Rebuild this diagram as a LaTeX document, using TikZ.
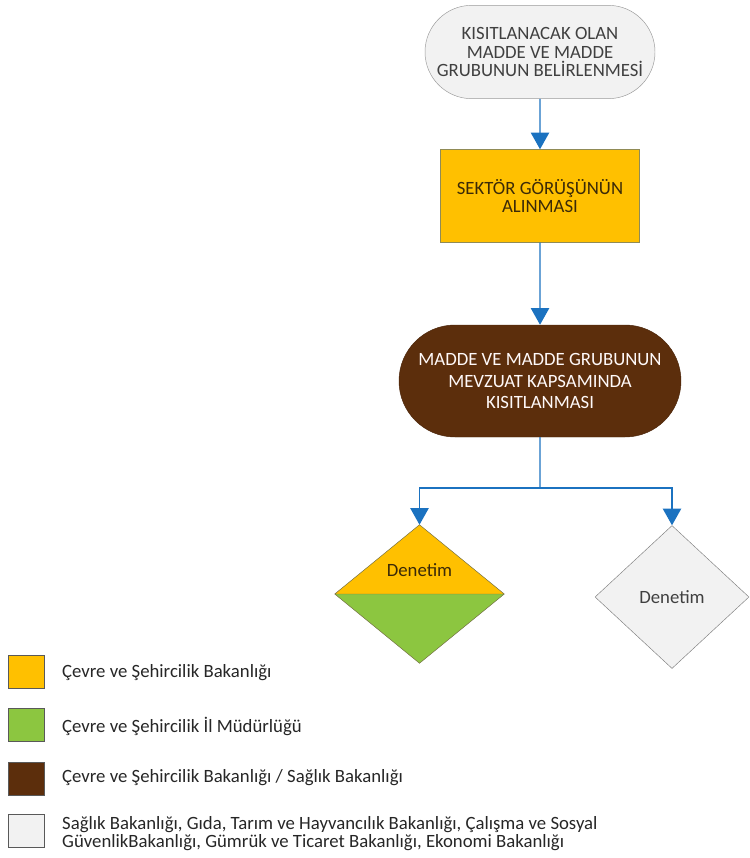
\documentclass[tikz,border=0pt]{standalone}
\usepackage{fontspec}
\setmainfont{Carlito}
\usetikzlibrary{shapes.geometric,shapes.misc,arrows.meta}
\definecolor{termgray}{HTML}{F2F2F2}
\definecolor{gold}{HTML}{FFC000}
\definecolor{leaf}{HTML}{8CC640}
\definecolor{soil}{HTML}{5C2E0C}
\definecolor{flow}{HTML}{1B72C0}
\definecolor{ink}{HTML}{404040}
\definecolor{darkink}{HTML}{3B2A08}
\begin{document}
\begin{tikzpicture}[x=0.3mm, y=-0.3mm,
        txt/.style={font=\fontsize{16}{15.5}\selectfont, text=ink},
        term/.style={rounded rectangle, draw=gray!80, fill=termgray, align=center, inner sep=0pt, txt},
        proc/.style={draw=gray!60!olive, fill=gold, align=center, txt, text=darkink},
        dec/.style={diamond, draw=gray, inner sep=0pt},
        legbox/.style={draw=gray!70!black, minimum width=10.8mm, minimum height=10mm, inner sep=0pt},
        legtext/.style={anchor=west, align=left, inner sep=0pt, txt, text=black!85},
        arrow/.style={-{Triangle[width=5.5mm, length=5mm]}, draw=flow, line width=1.2pt}
      ]
      \useasboundingbox (0,0) rectangle (749,858);

      \node[term, minimum width=69mm, minimum height=28mm] (start) at (540,52)
        {KISITLANACAK OLAN\\MADDE VE MADDE\\GRUBUNUN BELİRLENMESİ};
      \node[proc, minimum width=59.7mm, minimum height=27.9mm] (sector) at (540,196)
        {SEKTÖR GÖRÜŞÜNÜN\\ALINMASI};
      \node[term, draw=soil!80!black, fill=soil, text=white!90!pink, font=\fontsize{16}{18.5}\selectfont,
        minimum width=84.6mm, minimum height=33.6mm] (restrict) at (540,381)
        {MADDE VE MADDE GRUBUNUN\\MEVZUAT KAPSAMINDA\\KISITLANMASI};

      % split inspection diamond
      \node[dec, minimum width=50.7mm, minimum height=41.4mm] (check1) at (419.5,594) {};
      \fill[gold] (check1.west) -- (check1.north) -- (check1.east) -- cycle;
      \fill[leaf] (check1.west) -- (check1.south) -- (check1.east) -- cycle;
      \draw[gray!50!olive!80!black] (check1.west) -- (check1.north) -- (check1.east) -- (check1.south) -- cycle
        (check1.west) -- (check1.east);
      \node[txt, text=darkink] (check1text) at (419.5,570) {Denetim};

      \node[dec, fill=termgray, minimum width=46.2mm, minimum height=42.9mm, txt] (check2) at (672,597) {Denetim};

      \coordinate (fork) at (540,488);
      \draw[arrow] (start) -- (sector);
      \draw[arrow] (sector) -- (restrict);
      \draw[flow, line width=1.2pt] (restrict) -- (fork);
      \draw[arrow] (fork) -| (check1.north);
      \draw[arrow] (fork) -| (check2.north);

      % legend
      \node[legbox, fill=gold] (leg1) at (26,671.5) {};
      \node[legbox, fill=leaf] (leg2) at (26,724.5) {};
      \node[legbox, fill=soil] (leg3) at (26,778.5) {};
      \node[legbox, fill=termgray] (leg4) at (26,831) {};
      \node[legtext] (leg1text) at (62,673) {Çevre ve Şehircilik Bakanlığı};
      \node[legtext] (leg2text) at (62,726) {Çevre ve Şehircilik İl Müdürlüğü};
      \node[legtext] (leg3text) at (62,778) {Çevre ve Şehircilik Bakanlığı / Sağlık Bakanlığı};
      \node[legtext] (leg4text) at (62,834) {Sağlık Bakanlığı, Gıda, Tarım ve Hayvancılık Bakanlığı, Çalışma ve Sosyal\\GüvenlikBakanlığı, Gümrük ve Ticaret Bakanlığı, Ekonomi Bakanlığı};
    \end{tikzpicture}
\end{document}
